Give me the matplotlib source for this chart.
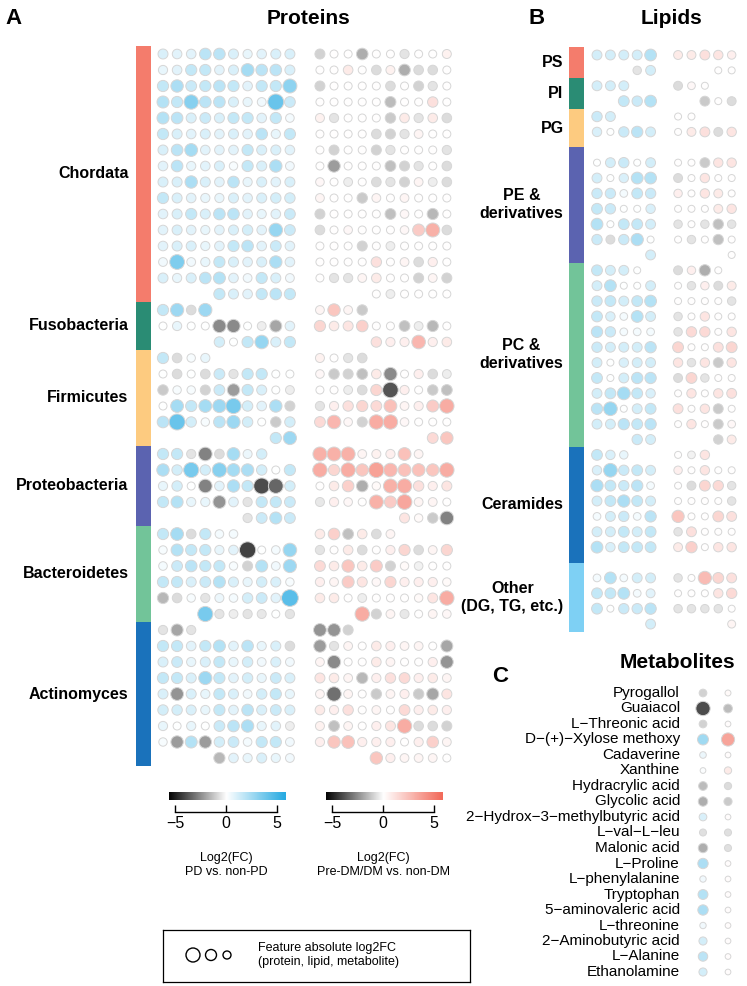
import numpy as np
import matplotlib
matplotlib.use('Agg')
import matplotlib.pyplot as plt
from matplotlib.colors import LinearSegmentedColormap, Normalize

plt.rcParams['font.family'] = ['Liberation Sans', 'DejaVu Sans']

na = np.nan
W, H = 747, 986

# ── Proteins (log2FC, 10 slots per row, na = empty slot) ────────────────────
prot_groups = ['Chordata', 'Fusobacteria', 'Firmicutes', 'Proteobacteria',
               'Bacteroidetes', 'Actinomyces']
prot_colors = ['#F47C6C', '#2A8C74', '#FDCB80', '#5B63B0', '#72C499', '#1A72BB']
prot_nrows = [16, 3, 6, 5, 6, 9]

prot_pd = [
    [1.0, 0.8, 0.8, 1.8, 1.8, 1.0, 0.6, 0.8, 1.0, 1.0],
    [0.6, 0.8, 1.6, 1.6, 0.8, 1.0, 2.4, 1.8, 1.8, 1.0],
    [1.6, 2.2, 1.4, 1.6, 1.8, 1.6, 0.8, 1.6, 1.6, 3.0],
    [2.0, 1.6, 3.2, 1.8, 1.8, 1.0, 0.6, 0.4, 4.0, 1.4],
    [2.0, 1.8, 1.0, 1.4, 1.0, 1.6, 1.6, 0.8, 1.6, 0.3],
    [1.6, 1.0, 0.8, 1.0, 0.8, 1.0, 0.8, 1.8, 0.6, 1.6],
    [1.0, 1.8, 2.4, 0.8, 0.8, 0.8, 1.6, 1.0, 1.0, 0.8],
    [0.8, 1.8, 0.6, 0.8, 1.0, 0.2, 1.6, 1.0, 2.2, 0.4],
    [1.0, 1.0, 2.2, 1.0, 0.8, 1.8, 0.6, 1.0, 0.8, 1.0],
    [1.6, 1.0, 0.8, 0.6, 0.6, 1.0, 0.8, 1.0, 1.2, 1.2],
    [0.8, 1.0, 1.6, 1.0, 1.8, 1.8, 0.8, 0.6, 0.8, 1.4],
    [0.8, 1.0, 0.8, 0.6, 0.8, 1.0, 1.2, 0.8, 2.8, 1.4],
    [0.8, 1.0, 1.0, 0.6, 0.8, 1.6, 1.8, 0.8, 1.4, 0.8],
    [0.4, 3.4, 0.4, 0.6, 1.6, 1.0, 0.8, 1.0, 2.2, 0.8],
    [1.0, 0.6, 1.0, 1.8, 2.0, 0.8, 0.4, 1.6, 1.0, 0.4],
    [na, na, na, na, 1.6, 1.0, 0.8, 1.6, 1.8, 1.6],
    [1.6, 2.6, -0.8, 2.6, na, na, na, na, na, na],
    [0.0, 0.6, 0.0, 0.0, -2.6, -2.6, 0.0, -0.4, -2.0, 0.8],
    [na, na, na, na, 1.2, 0.0, 1.6, 2.8, 1.0, 1.6],
    [1.6, -0.8, 0.2, 0.6, na, na, na, na, na, na],
    [0.0, -0.8, 0.0, -0.8, 1.4, -0.6, 1.6, 1.6, 0.0, 0.0],
    [-1.2, 0.2, 0.2, -1.0, 1.4, -2.2, 1.6, 1.0, 0.0, -0.4],
    [0.0, 2.4, 1.6, 2.4, 2.6, 3.6, 1.2, 0.8, 2.2, -1.0],
    [1.8, 4.0, 1.2, 0.2, 1.8, 2.6, 1.2, 0.0, -1.2, 1.2],
    [na, na, na, na, na, na, na, na, 1.6, 2.6],
    [1.6, 1.6, -0.6, -2.8, -0.8, 2.4, 0.5, 1.2, na, na],
    [2.2, 1.2, 3.6, 1.2, 3.2, 2.4, 2.2, 1.2, 0.0, 1.6],
    [0.6, 1.2, 0.0, -2.8, 0.8, 2.2, 1.6, -4.0, -3.4, 1.2],
    [1.6, 2.0, 0.6, 0.6, -2.4, 0.8, -0.6, 1.6, 1.6, 1.4],
    [na, na, na, na, na, na, -0.6, 1.4, 2.0, 1.4],
    [1.6, 2.4, -0.8, 1.6, 0.3, 0.3, na, na, na, na],
    [0.2, 2.0, 1.6, 1.6, 0.6, 0.8, -4.2, 0.0, 0.3, 2.8],
    [0.3, 1.4, 1.8, 1.6, 1.6, 0.2, -1.0, 2.0, 0.4, 2.6],
    [1.6, 1.6, 1.0, 1.4, 2.0, 1.0, 0.6, 1.2, 1.0, 0.2],
    [-1.6, -0.8, 0.2, -0.6, 0.5, 0.3, 1.2, 1.4, 0.8, 4.4],
    [na, na, na, 3.6, -0.6, -0.4, -0.6, -0.5, 0.0, -0.6],
    [-0.6, -2.0, -0.6, na, na, na, na, na, na, na],
    [1.6, 1.6, 0.8, 1.6, 2.0, 0.8, 1.8, 0.6, 1.0, -0.8],
    [1.0, 1.4, 0.6, 1.0, 1.6, 0.6, 1.2, 0.4, 1.0, 0.4],
    [1.6, 1.6, 1.0, 2.6, 1.6, 0.8, 1.2, 0.6, 1.4, 1.0],
    [1.0, -2.4, 1.0, 0.6, 1.6, 1.0, 0.4, 1.2, 1.6, 0.6],
    [1.2, 1.2, 1.0, 0.6, 1.6, 0.8, 1.8, 1.0, 1.4, 1.0],
    [0.6, 0.0, 0.6, 0.0, 1.4, 1.8, 2.2, 0.6, 0.8, -0.4],
    [0.2, -2.2, 2.0, -2.2, 1.2, 1.4, 0.3, 1.6, 1.6, 0.4],
    [na, na, na, na, -1.6, 0.8, 0.6, 1.0, 0.6, 0.4],
]

prot_dm = [
    [-1.0, 0.0, 0.0, -1.8, 0.0, 0.0, -0.6, 0.0, 0.0, 0.5],
    [0.0, 0.0, 0.8, 0.0, -0.8, 0.5, -1.8, -0.8, -0.8, 0.0],
    [-1.0, 0.0, 0.0, 0.0, 0.0, -0.8, 0.0, -1.0, -0.6, 0.0],
    [0.0, 0.0, 0.0, 0.0, 0.0, -1.5, 0.0, 0.0, 1.2, 0.0],
    [0.5, -0.6, 0.0, 0.0, 0.0, -1.2, 0.8, -0.6, 0.8, -0.8],
    [0.0, 0.0, 0.0, 0.0, -0.8, -1.0, -0.6, 0.4, 0.0, 0.0],
    [0.0, -1.0, 0.0, 0.0, -1.0, -0.6, 0.0, 0.0, 0.0, -0.6],
    [0.0, -2.2, 0.0, 0.0, 0.0, -1.4, -1.0, -0.6, 0.0, -0.8],
    [0.3, 0.0, -0.4, 0.0, -0.8, -0.6, -1.0, 0.4, -0.4, -0.8],
    [0.4, 0.0, 0.0, -1.2, 0.4, 0.0, 0.4, 0.0, 0.0, 0.0],
    [-1.0, 0.0, 0.0, 0.0, 0.0, -1.4, 0.3, 0.0, -1.6, 0.0],
    [-0.8, 0.0, 0.3, 0.0, 0.0, 0.0, 0.3, 2.0, 3.0, -0.8],
    [0.0, 0.0, 0.0, -1.0, 0.0, -0.4, 0.0, 0.0, 0.0, 0.0],
    [0.0, 0.0, 0.0, 0.0, 1.2, 0.0, 0.4, -0.8, 0.6, 0.0],
    [0.0, -0.6, -0.6, 0.4, 0.8, 0.0, 0.0, -1.0, 0.4, -1.0],
    [na, na, na, na, 0.0, -0.4, 0.0, 0.0, 0.0, 0.0],
    [0.4, 2.2, 0.4, -1.2, na, na, na, na, na, na],
    [1.6, 0.8, 1.0, 1.8, 0.0, 0.0, -1.4, -0.4, -1.6, 0.0],
    [na, na, na, na, 1.2, 0.6, 0.6, 2.8, 0.6, 0.8],
    [0.5, 0.0, -0.6, -0.8, na, na, na, na, na, na],
    [0.3, -1.2, -1.0, -1.4, 0.8, -2.6, 0.0, 0.6, -0.8, -0.4],
    [0.0, 0.0, -0.4, -0.8, 1.6, -3.8, 0.6, 0.0, -1.2, -1.4],
    [-0.6, 0.6, 1.2, 1.6, 1.4, 2.4, 0.4, 0.6, 2.0, 3.2],
    [1.4, 2.8, 0.3, -1.0, 3.2, 3.2, 0.3, 0.0, 0.0, 0.0],
    [na, na, na, na, na, na, na, na, 1.4, 2.2],
    [3.0, 3.0, 3.0, 0.4, 0.5, 0.6, 2.4, 0.4, na, na],
    [3.2, 1.6, 3.2, 2.2, 3.6, 2.8, 2.4, 2.4, 2.2, 3.2],
    [0.0, 0.8, 1.8, -1.8, 0.2, 3.0, 3.2, 1.2, 0.6, 1.0],
    [-0.5, 0.6, 0.3, 0.0, 3.0, 2.0, 3.4, 0.4, 0.4, 0.0],
    [na, na, na, na, na, na, 1.0, 0.2, -1.2, -2.8],
    [0.8, 1.8, -1.4, 0.8, -0.8, 0.4, na, na, na, na],
    [-0.6, 0.0, 0.8, -0.8, 0.0, 0.6, 1.6, -0.8, 0.4, 1.6],
    [1.4, 0.8, 2.2, 0.8, 2.0, -1.0, 0.2, -0.3, 0.0, 0.0],
    [0.6, 0.4, 2.0, 1.0, 0.3, 1.6, 0.6, 0.6, 0.6, 0.2],
    [0.8, 0.8, 0.0, -0.4, 0.0, 0.0, 0.0, 0.2, 1.0, 3.2],
    [na, na, na, 3.2, -1.0, 0.4, -0.5, 0.0, 0.4, 0.3],
    [-2.4, -2.4, -1.0, na, na, na, na, na, na, na],
    [-2.2, -0.6, 0.4, 0.0, 0.8, 0.6, 0.4, 0.4, 0.0, -2.0],
    [0.4, -2.6, 0.0, 0.0, 0.8, 0.4, 0.0, 0.0, 0.6, -2.4],
    [1.0, 0.8, 0.4, -1.6, 0.6, 1.2, 1.4, 0.6, 0.8, 0.4],
    [0.4, -3.2, 0.4, 0.0, -1.2, 0.4, 0.6, -1.2, -2.0, 1.0],
    [0.8, 0.6, 1.2, 0.0, 0.4, 0.0, 1.4, 0.6, 0.8, 0.6],
    [0.5, -1.4, 0.4, 0.0, 0.6, 1.0, 3.2, -0.8, -0.8, -1.0],
    [0.6, 2.2, 2.4, 0.6, 0.6, 0.6, 0.0, 0.6, 1.8, 0.4],
    [na, na, na, na, 2.2, 0.6, 0.4, 0.4, 0.4, 0.0],
]

# ── Lipids (5 slots per row) ────────────────────────────────────────────────
lip_groups = ['PS', 'PI', 'PG', 'PE &\nderivatives', 'PC &\nderivatives',
              'Ceramides', 'Other\n(DG, TG, etc.)']
lip_colors = ['#F47C6C', '#2A8C74', '#FDCB80', '#5B63B0', '#72C499', '#1A72BB', '#7ED0F4']
lip_nrows = [2, 2, 2.5, 7.5, 12, 7.5, 4.5]

lip_pd = [
    [1.2, 1.2, 1.2, 1.2, 2.0],
    [na, na, na, -0.6, 1.2],
    [1.2, 1.2, 1.2, na, na],
    [na, na, 1.6, 1.4, 2.0],
    [1.4, 1.2, na, na, na],
    [1.0, 0.0, 1.4, 1.8, 1.2],
    [na, na, na, na, na],
    [0.0, 1.2, 1.4, 0.0, 1.2],
    [1.2, 0.0, 1.0, 2.0, 2.0],
    [1.4, 1.4, 0.3, 1.6, 1.4],
    [1.6, 1.4, 0.0, 0.0, 1.0],
    [2.0, 0.0, 1.6, 1.6, 1.2],
    [1.4, -0.8, 1.4, 2.2, 0.0],
    [na, na, na, na, 1.2],
    [1.6, 1.2, 1.2, 0.0, na],
    [1.2, 2.0, 0.0, 0.0, 1.2],
    [1.4, 1.6, 1.2, 1.6, 2.0],
    [1.6, 1.0, 0.3, 2.0, 1.2],
    [1.8, 1.4, 0.3, 0.3, 0.3],
    [1.4, 1.2, 1.2, 1.2, 1.8],
    [1.2, 0.0, 1.0, 1.2, 1.2],
    [1.6, 0.0, 1.2, 1.8, 1.8],
    [1.2, 1.6, 2.4, 1.6, 1.0],
    [1.8, 2.8, 0.0, 1.2, 1.6],
    [1.2, 1.2, 1.8, 1.6, 1.8],
    [na, na, na, 1.4, 1.2],
    [1.6, 1.0, 0.6, na, na],
    [1.0, 2.8, 1.4, 1.6, 1.2],
    [2.2, 1.6, 1.4, 1.8, 0.3],
    [1.2, 1.6, 2.2, 1.6, 1.2],
    [0.3, 1.2, 1.4, 0.3, 1.8],
    [1.2, 1.2, 1.6, 1.2, 1.6],
    [2.0, 1.0, 1.6, 1.6, 1.6],
    [na, na, na, na, na],
    [0.3, 2.0, 0.3, 1.2, 1.2],
    [1.6, 1.6, 2.0, 0.3, 0.8],
    [1.6, 0.0, 1.4, 1.4, 1.8],
    [na, na, na, na, 1.2],
]

lip_dm = [
    [0.8, 0.8, 1.2, 1.0, 0.6],
    [na, na, na, 0.0, 0.0],
    [-0.8, 0.3, 0.0, na, na],
    [na, na, -1.2, 0.0, -0.8],
    [0.0, 0.0, na, na, na],
    [0.0, 0.8, 1.2, -0.8, 1.0],
    [na, na, na, na, na],
    [0.0, 0.0, -1.2, 1.0, 1.0],
    [-0.8, 0.0, 1.0, 0.0, 0.0],
    [0.6, 0.0, 1.0, 0.8, 0.0],
    [0.0, 0.0, 0.0, 0.8, 1.0],
    [-0.6, 0.0, -0.6, -1.4, -0.6],
    [0.0, -0.6, 0.0, -1.4, 0.0],
    [na, na, na, na, 0.0],
    [-0.8, 0.6, -1.8, 0.0, na],
    [0.0, -0.6, 0.6, -0.8, 0.8],
    [0.0, 0.0, 0.0, 0.0, -0.6],
    [-0.6, 0.0, 1.0, 0.0, 0.0],
    [-0.6, 1.4, 1.4, 0.0, 1.0],
    [1.6, 0.0, 0.0, 1.2, 1.6],
    [1.0, -0.6, 1.0, -1.2, 1.0],
    [-0.8, 1.6, -0.6, 0.0, 0.0],
    [0.0, 1.0, 0.0, 1.0, 1.2],
    [1.2, 0.0, 1.0, -1.2, 0.0],
    [0.0, 1.0, 0.0, -1.2, 0.3],
    [na, na, na, -1.0, 0.8],
    [0.0, -0.3, 1.0, na, na],
    [0.6, 0.0, 1.0, 0.0, 0.0],
    [0.0, -0.8, 1.6, 1.4, -0.6],
    [0.0, 0.0, 0.0, 0.0, -0.6],
    [2.2, 0.0, 0.0, 1.6, 1.2],
    [-0.6, 1.2, 0.0, 0.0, 0.0],
    [0.8, 1.8, 0.0, 1.0, 1.0],
    [na, na, na, na, na],
    [-0.6, 0.0, 2.6, 1.6, 1.2],
    [0.0, 0.0, 0.0, 1.0, 1.4],
    [-0.6, -0.6, -0.6, -0.6, 0.0],
    [na, na, na, na, 0.4],
]

# ── Metabolites ─────────────────────────────────────────────────────────────
met_names = ['Pyrogallol', 'Guaiacol', 'L\u2212Threonic acid', 'D\u2212(+)\u2212Xylose methoxy',
             'Cadaverine', 'Xanthine', 'Hydracrylic acid', 'Glycolic acid',
             '2\u2212Hydrox\u22123\u2212methylbutyric acid', 'L\u2212val\u2212L\u2212leu',
             'Malonic acid', 'L\u2212Proline', 'L\u2212phenylalanine', 'Tryptophan',
             '5\u2212aminovaleric acid', 'L\u2212threonine', '2\u2212Aminobutyric acid',
             'L\u2212Alanine', 'Ethanolamine']
met_pd = [-1.0, -4.0, -1.0, 2.5, 0.5, 0.1, -1.5, -1.8, 1.0, -0.7,
          -1.8, 2.2, 0.4, 2.0, 2.2, 0.4, 1.2, 1.8, 1.2]
met_dm = [0.2, -1.5, 0.1, 3.5, 0.1, 0.8, -0.8, -1.2, 0.1, -0.7,
          -0.7, 0.1, 0.1, 0.1, 0.1, 0.1, 0.1, 0.1, 0.1]

cbar_ticks = [-5, 0, 5]

# ── Colour scales ───────────────────────────────────────────────────────────
cmap_pd = LinearSegmentedColormap.from_list('pd', ['#000000', '#FFFFFF', '#29ABE2'])
cmap_dm = LinearSegmentedColormap.from_list('dm', ['#000000', '#FFFFFF', '#F26B5B'])
norm = Normalize(-5.7, 5.7)

fig = plt.figure(figsize=(W / 100, H / 100), dpi=100)


def px_axes(x0, y0, x1, y1):
    return fig.add_axes([x0 / W, 1 - y1 / H, (x1 - x0) / W, (y1 - y0) / H])


def ftext(x, y, s, **kw):
    fig.text(x / W, 1 - y / H, s, **kw)


def dots(ax, vals, x_off, cmap, d0, k):
    v = np.array(vals, dtype=float)
    if v.ndim == 1:
        v = v[:, None]
    r, c = np.nonzero(~np.isnan(v))
    fc = v[r, c]
    d = d0 + k * np.abs(fc)
    ax.scatter(c + x_off, r, s=(d * 0.72) ** 2, c=fc, cmap=cmap, norm=norm,
               edgecolors='#D6D6D6', linewidths=0.7, zorder=3)


def group_bars(ax, nrows, colors, names, x_left, width, x_text, fs):
    starts = np.concatenate([[0], np.cumsum(nrows)[:-1]]) - 0.5
    ax.barh(starts + np.array(nrows) / 2, width, left=x_left, height=nrows,
            color=colors, edgecolor='none')
    for s, n, name in zip(starts, nrows, names):
        ax.text(x_text, s + n / 2, name, ha='right', va='center', fontsize=fs,
                fontweight='bold', multialignment='center', linespacing=1.25)


# Proteins panel: col step 14.1 px, row step 16 px
ax_p = px_axes(163 - 2.2 * 14.1, 38, 163 + 21 * 14.1, 38 + 46 * 16)
ax_p.set_xlim(-2.2, 21)
ax_p.set_ylim(45, -1)
ax_p.set_axis_off()
dots(ax_p, prot_pd, 0, cmap_pd, 8, 2.0)
dots(ax_p, prot_dm, 11.13, cmap_dm, 8, 2.0)
group_bars(ax_p, prot_nrows, prot_colors, prot_groups, -1.91, 1.06, -2.45, 11.5)

# Lipids panel: col step 13.4 px, row step 15.38 px
ax_l = px_axes(597 - 2.2 * 13.4, 55 - 15.38, 597 + 11 * 13.4, 55 + 38 * 15.38)
ax_l.set_xlim(-2.2, 11)
ax_l.set_ylim(38, -1)
ax_l.set_axis_off()
dots(ax_l, lip_pd, 0, cmap_pd, 7, 2.4)
dots(ax_l, lip_dm, 6.05, cmap_dm, 7, 2.4)
group_bars(ax_l, lip_nrows, lip_colors, lip_groups, -2.09, 1.12, -2.5, 11.5)

# Metabolites panel: col step 25 px, row step 15.5 px
ax_m = px_axes(703 - 0.5 * 25, 693 - 0.8 * 15.5, 703 + 1.5 * 25, 693 + 18.8 * 15.5)
ax_m.set_xlim(-0.5, 1.5)
ax_m.set_ylim(18.8, -0.8)
ax_m.set_axis_off()
dots(ax_m, met_pd, 0, cmap_pd, 5.5, 2.2)
dots(ax_m, met_dm, 1, cmap_dm, 5.5, 2.2)
for i, name in enumerate(met_names):
    ax_m.text(-0.92, i, name, ha='right', va='center', fontsize=11)

# Colour bars with bracket axes
for x_zero, cmap, lab in [(226, cmap_pd, 'Log2(FC)\nPD vs. non-PD'),
                          (383, cmap_dm, 'Log2(FC)\nPre-DM/DM vs. non-DM')]:
    cax = px_axes(x_zero - 5.6 * 10.2, 792, x_zero + 5.8 * 10.2, 800)
    grad = np.linspace(-5.6, 5.8, 256)[None, :]
    cax.imshow(grad, cmap=cmap, norm=norm, aspect='auto', extent=(-5.6, 5.8, 0, 1))
    cax.set_xlim(-5.6, 5.8)
    cax.set_yticks([])
    for sp in ['top', 'left', 'right']:
        cax.spines[sp].set_visible(False)
    cax.spines['bottom'].set_position(('outward', 8.6))
    cax.spines['bottom'].set_bounds(-5, 5)
    cax.spines['bottom'].set_linewidth(1.0)
    cax.set_xticks(cbar_ticks)
    cax.tick_params(axis='x', direction='in', length=5, width=1.0, labelsize=11.5, pad=3)
    ftext(x_zero, 865, lab, ha='center', va='center', fontsize=9, linespacing=1.3)

# Size legend
lax = px_axes(163, 930, 470, 982)
lax.set_xlim(0, 307)
lax.set_ylim(52, 0)
lax.set_xticks([])
lax.set_yticks([])
for sp in lax.spines.values():
    sp.set_linewidth(0.9)
leg_fc = [4.0, 2.5, 1.0]
leg_x = [30, 48, 64]
lax.scatter(leg_x, [25] * 3, s=[((6 + 2 * v) * 0.72) ** 2 for v in leg_fc],
            facecolors='white', edgecolors='black', linewidths=1.0)
lax.text(95, 25, 'Feature absolute log2FC\n(protein, lipid, metabolite)',
         ha='left', va='center', fontsize=9, linespacing=1.3)

# Titles and panel letters
ftext(308, 18, 'Proteins', ha='center', va='center', fontsize=15, fontweight='bold')
ftext(672, 18, 'Lipids', ha='center', va='center', fontsize=15, fontweight='bold')
ftext(677, 662, 'Metabolites', ha='center', va='center', fontsize=15, fontweight='bold')
ftext(14, 18, 'A', ha='center', va='center', fontsize=16, fontweight='bold')
ftext(537, 18, 'B', ha='center', va='center', fontsize=16, fontweight='bold')
ftext(500, 677, 'C', ha='center', va='center', fontsize=16, fontweight='bold')

plt.savefig('out.png', dpi=100)
